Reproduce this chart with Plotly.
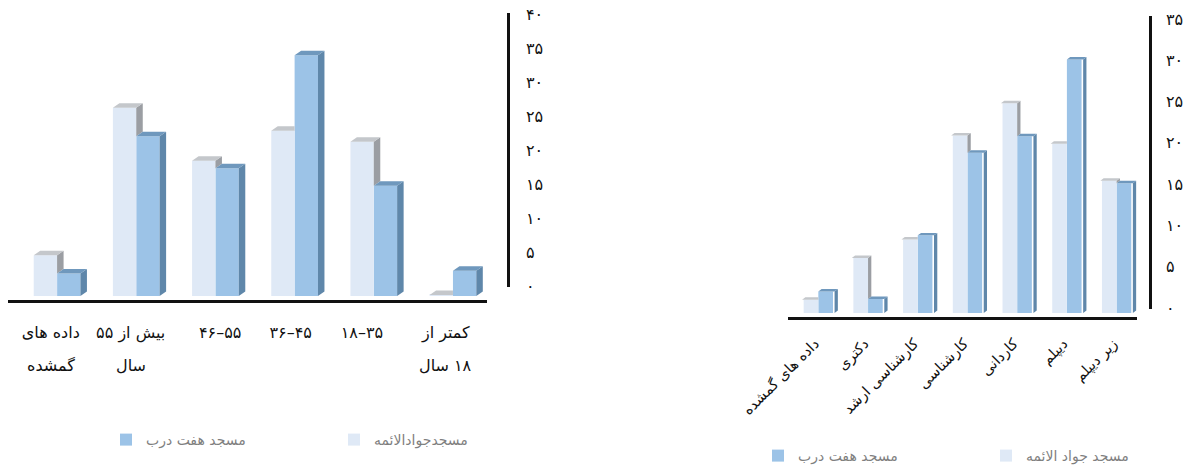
import plotly.graph_objects as go

W, H = 1186, 468
FONT = "DejaVu Sans"
LIGHT, LIGHT_SIDE, LIGHT_TOP = "#dfe9f6", "#9b9ea3", "#c4c7cb"
BLUE, BLUE_SIDE, BLUE_TOP = "#9cc3e7", "#5f87aa", "#6f98bd"

# Left chart data (index 0 = rightmost group)
age_line1 = ["کمتر از", "۱۸–۳۵", "۳۶–۴۵", "۴۶–۵۵", "بیش از ۵۵", "داده های"]
age_line2 = ["\u200f۱۸ سال", "", "", "", "سال", "گمشده"]
age_light = [0.15, 22.7, 24.3, 19.9, 27.7, 6.0]
age_blue = [3.7, 16.2, 35.4, 18.8, 23.5, 3.3]
age_ticks = [0, 5, 10, 15, 20, 25, 30, 35, 40]
age_ticktext = ["۰", "۵", "۱۰", "۱۵", "۲۰", "۲۵", "۳۰", "۳۵", "۴۰"]
age_light_name = "مسجدجوادالائمه"
age_blue_name = "مسجد هفت درب"

# Right chart data (index 0 = rightmost group)
edu_labels = ["زیر دیپلم", "دیپلم", "کاردانی", "کارشناسی", "کارشناسی ارشد", "دکتری", "داده های گمشده"]
edu_light = [16.0, 20.5, 25.4, 21.5, 8.9, 6.65, 1.6]
edu_blue = [15.7, 30.7, 21.4, 19.4, 9.4, 1.7, 2.6]
edu_ticks = [0, 5, 10, 15, 20, 25, 30, 35]
edu_ticktext = ["۰", "۵", "۱۰", "۱۵", "۲۰", "۲۵", "۳۰", "۳۵"]
edu_light_name = "مسجد جواد الائمه"
edu_blue_name = "مسجد هفت درب"

# Where the reference places its category labels, in axis units
age_label_pos = [0.09, 1.15, 2.05, 2.94, 4.07, 5.08]
edu_label_pos = [0.07, 1.07, 2.07, 3.07, 4.07, 5.07, 6.07]


def px(x):
    return x / W


def py(y):
    return 1 - y / H


fig = go.Figure()


def poly(xs, ys, color, xa, ya):
    fig.add_trace(go.Scatter(x=xs, y=ys, mode="lines", fill="toself", fillcolor=color,
                             line=dict(width=0, color=color), hoverinfo="skip", showlegend=False,
                             xaxis=xa, yaxis=ya))


def chart(light, blue, light_name, blue_name, xa, ya, gap, dx, dy, leg_light, leg_blue):
    n = list(range(len(light)))
    w = (1 - gap) / 2
    fig.add_trace(go.Bar(x=n, y=blue, name=blue_name, marker=dict(color=BLUE, line_width=0),
                         xaxis=xa, yaxis=ya, legend=leg_blue))
    fig.add_trace(go.Bar(x=n, y=light, name=light_name, marker=dict(color=LIGHT, line_width=0),
                         xaxis=xa, yaxis=ya, legend=leg_light))
    sx, sy, tx, ty, bsx, bsy, btx, bty = [], [], [], [], [], [], [], []
    for i, (l, b) in enumerate(zip(light, blue)):
        # light bar: screen-left half of the group (higher x on the reversed axis)
        x0, x1 = i + w, i
        if l > b:
            sx += [x1, x1 - dx, x1 - dx, x1, None]
            sy += [b, b + dy, l + dy, l, None]
            tx += [x0, x1, x1 - dx, x0 - dx, None]
        else:
            tx += [x0, x1, x1, x0 - dx, None]
        ty += [l, l, l + dy, l + dy, None]
        x0, x1 = i, i - w
        bsx += [x1, x1 - dx, x1 - dx, x1, None]
        bsy += [0, dy, b + dy, b, None]
        btx += [x0, x1, x1 - dx, x0 - dx, None]
        bty += [b, b, b + dy, b + dy, None]
    poly(sx, sy, LIGHT_SIDE, xa, ya)
    poly(tx, ty, LIGHT_TOP, xa, ya)
    poly(bsx, bsy, BLUE_SIDE, xa, ya)
    poly(btx, bty, BLUE_TOP, xa, ya)


chart(age_light, age_blue, age_light_name, age_blue_name, "x", "y", 0.41, 0.082, 0.66, "legend2", "legend")
chart(edu_light, edu_blue, edu_light_name, edu_blue_name, "x2", "y3", 0.346, 0.066, 0.3, "legend4", "legend3")

# invisible traces that keep the value axes alive
fig.add_trace(go.Scatter(x=[None], y=[None], xaxis="x3", yaxis="y2", showlegend=False))
fig.add_trace(go.Scatter(x=[None], y=[None], xaxis="x4", yaxis="y4", showlegend=False))

tickfont = dict(family=FONT, size=16, color="#111111")
legfont = dict(family=FONT, size=14, color="#7f7f7f")


def legend(x, y):
    return dict(x=px(x), y=py(y), xanchor="left", yanchor="middle",
                bgcolor="rgba(0,0,0,0)", borderwidth=0, font=legfont, itemclick=False, itemdoubleclick=False)


fig.update_layout(
    width=W, height=H, margin=dict(l=0, r=0, t=0, b=0, autoexpand=False), paper_bgcolor="white",
    plot_bgcolor="white", barmode="group", bargap=0.41, showlegend=True,
    legend=legend(106, 440), legend2=legend(334, 440), legend3=legend(758, 456), legend4=legend(986, 456),
    xaxis=dict(domain=[px(8), px(487)], range=[5.62, -0.43], anchor="y", tickmode="array", automargin=False,
               tickvals=age_label_pos, ticktext=age_line1, tickangle=0, tickfont=tickfont,
               ticks="outside", ticklen=16, tickcolor="rgba(0,0,0,0)", showgrid=False, zeroline=False,
               showline=True, linecolor="#111111", linewidth=2.5),
    yaxis=dict(domain=[py(300), py(10)], range=[-4 / 6.8, 286 / 6.8], visible=False, showgrid=False,
               zeroline=False, anchor="x", automargin=False),
    xaxis3=dict(domain=[px(500), px(507)], range=[0, 1], visible=False, anchor="y2", automargin=False),
    yaxis2=dict(domain=[py(287), py(13)], range=[-1 / 6.8, 40 + 1 / 6.8], anchor="x3", side="right",
                tickmode="array", tickvals=age_ticks, ticktext=age_ticktext, tickfont=tickfont, automargin=False,
                ticks="outside", ticklen=13, tickcolor="rgba(0,0,0,0)", showgrid=False, zeroline=False,
                showline=True, linecolor="#111111", linewidth=2.5),
    xaxis2=dict(domain=[px(788), px(1137)], range=[6.61, -0.41], anchor="y3", tickmode="array", automargin=False,
                tickvals=edu_label_pos, ticktext=edu_labels, tickangle=-45,
                tickfont=dict(family=FONT, size=14.5, color="#111111"),
                ticks="outside", ticklen=10, tickcolor="rgba(0,0,0,0)", showgrid=False, zeroline=False,
                showline=True, linecolor="#111111", linewidth=2.5),
    yaxis3=dict(domain=[py(316.7), py(10)], range=[-3.7 / 8.26, 303 / 8.26], visible=False, showgrid=False,
                zeroline=False, anchor="x2", automargin=False),
    xaxis4=dict(domain=[px(1142), px(1149)], range=[0, 1], visible=False, anchor="y4", automargin=False),
    yaxis4=dict(domain=[py(309), py(16)], range=[-1 / 8.26, 292 / 8.26], anchor="x4", side="right",
                tickmode="array", tickvals=edu_ticks, ticktext=edu_ticktext, tickfont=tickfont, automargin=False,
                ticks="outside", ticklen=11, tickcolor="rgba(0,0,0,0)", showgrid=False, zeroline=False,
                showline=True, linecolor="#111111", linewidth=2.5),
)

for pos, t in zip(age_label_pos, age_line2):
    if t:
        fig.add_annotation(x=pos, y=py(365), xref="x", yref="paper", text=t, showarrow=False,
                           font=tickfont, yanchor="middle")

fig.write_html("out.html", post_script="document.body.style.margin='0';",
               config={"displayModeBar": False})
